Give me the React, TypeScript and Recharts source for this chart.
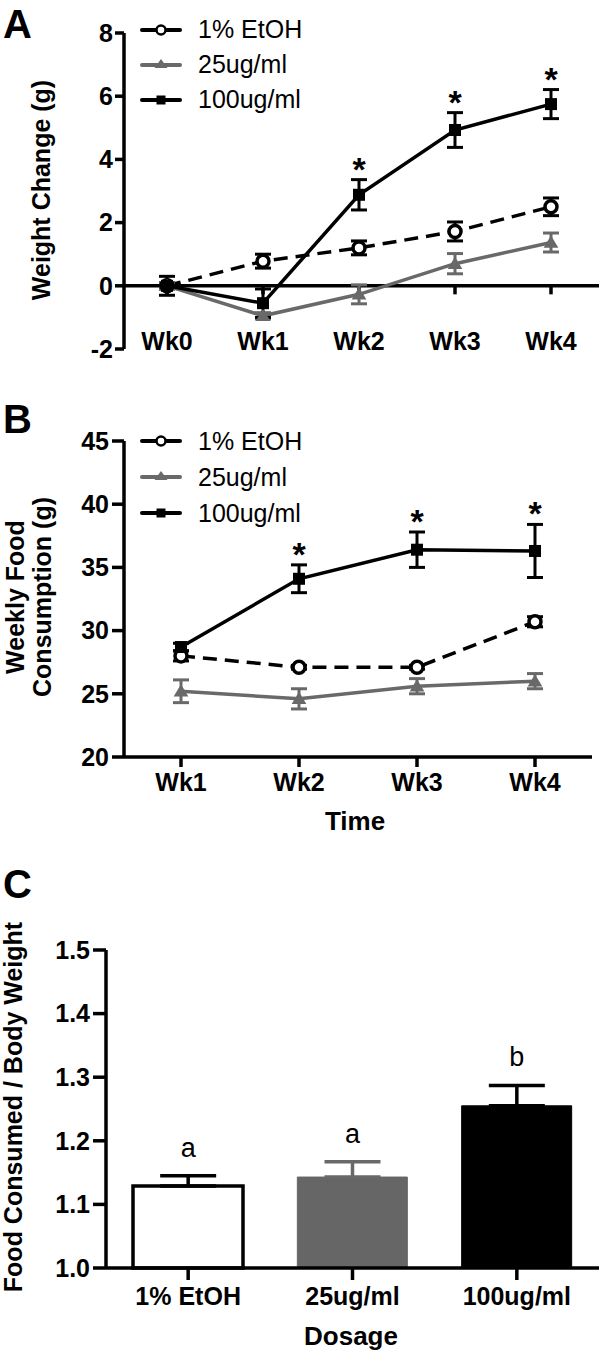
import React from 'react';
import {
  LineChart,
  Line,
  XAxis,
  YAxis,
  ReferenceLine,
  ErrorBar,
  LabelList,
  Legend,
  ComposedChart,
  Bar,
  Cell,
} from 'recharts';

const FONT = '"Liberation Sans", Arial, Helvetica, sans-serif';
const GRAY = '#696969';
const SW = 3.5;

// ---------- Panel A: weight change ----------
const weeksA = ['Wk0', 'Wk1', 'Wk2', 'Wk3', 'Wk4'];
const seriesNames = ['1% EtOH', '25ug/ml', '100ug/ml'];
const weightEtoh = [0, 0.78, 1.2, 1.72, 2.5];
const weightEtohErr = [0.1, 0.22, 0.22, 0.3, 0.28];
const weight25 = [0, -0.95, -0.27, 0.7, 1.37];
const weight25Err = [0.1, 0.1, 0.3, 0.32, 0.3];
const weight100 = [0, -0.55, 2.88, 4.93, 5.75];
const weight100Err = [0.3, 0.45, 0.48, 0.55, 0.46];
const weightSig = [false, false, true, true, true];
const weightTicks = [-2, 0, 2, 4, 6, 8];

// ---------- Panel B: weekly food consumption ----------
const weeksB = ['Wk1', 'Wk2', 'Wk3', 'Wk4'];
const foodEtoh = [28.0, 27.1, 27.1, 30.7];
const foodEtohErr = [0.4, 0.15, 0.15, 0.4];
const food25 = [25.2, 24.6, 25.6, 26.0];
const food25Err = [0.9, 0.8, 0.6, 0.6];
const food100 = [28.7, 34.1, 36.4, 36.3];
const food100Err = [0.3, 1.1, 1.4, 2.1];
const foodSig = [false, true, true, true];
const foodTicks = [20, 25, 30, 35, 40, 45];

// ---------- Panel C: food consumed / body weight ----------
const dosages = ['1% EtOH', '25ug/ml', '100ug/ml'];
const ratio = [1.129, 1.143, 1.255];
const ratioErr = [0.016, 0.024, 0.032];
const ratioLetters = ['a', 'a', 'b'];
const ratioTicks = [1.0, 1.1, 1.2, 1.3, 1.4, 1.5];
const barFills = ['#ffffff', '#666666', '#000000'];
const errGrayIdx = [1];

const dataA = weeksA.map((w, i) => ({
  week: w,
  etoh: weightEtoh[i],
  etohErr: weightEtohErr[i],
  d25: weight25[i],
  d25Err: weight25Err[i],
  d100: weight100[i],
  d100Err: weight100Err[i],
  sigTop: weightSig[i] ? weight100[i] + weight100Err[i] : null,
}));

const dataB = weeksB.map((w, i) => ({
  week: w,
  etoh: foodEtoh[i],
  etohErr: foodEtohErr[i],
  d25: food25[i],
  d25Err: food25Err[i],
  d100: food100[i],
  d100Err: food100Err[i],
  sigTop: foodSig[i] ? food100[i] + food100Err[i] : null,
}));

const dataC = dosages.map((d, i) => {
  const gray = errGrayIdx.includes(i);
  return {
    dosage: d,
    ratio: ratio[i],
    blackVal: gray ? null : ratio[i],
    blackErr: gray ? null : [0, ratioErr[i]],
    grayVal: gray ? ratio[i] : null,
    grayErr: gray ? [0, ratioErr[i]] : null,
    letterTop: ratio[i] + ratioErr[i],
    letter: ratioLetters[i],
  };
});

// ---------- helpers ----------
const axisStroke = { stroke: '#000', strokeWidth: SW };
const yTickStyle = { fill: '#000', fontSize: 25, fontWeight: 'bold', fontFamily: FONT };

const xTick = (dy: number) => (p: any) => (
  <text
    x={p.x}
    y={p.y + dy}
    textAnchor="middle"
    fontSize={25}
    fontWeight="bold"
    fontFamily={FONT}
    fill="#000"
  >
    {p.payload.value}
  </text>
);

function RotLabel({ px, py, lines, gap }: any) {
  return (
    <g>
      {lines.map((t: string, i: number) => {
        const x = px + i * gap;
        return (
          <text
            key={i}
            x={x}
            y={py}
            transform={`rotate(-90 ${x} ${py})`}
            textAnchor="middle"
            fontSize={25}
            fontWeight="bold"
            fontFamily={FONT}
            fill="#000"
          >
            {t}
          </text>
        );
      })}
    </g>
  );
}

function PlainLabel({ px, py, text }: any) {
  return (
    <text x={px} y={py} textAnchor="middle" fontSize={26} fontWeight="bold" fontFamily={FONT} fill="#000">
      {text}
    </text>
  );
}

const circleDot = (r: number) => (p: any) =>
  p.cx == null || p.cy == null ? (
    <g key={p.index} />
  ) : (
    <circle key={p.index} cx={p.cx} cy={p.cy} r={r} fill="#fff" stroke="#000" strokeWidth={SW} />
  );

const triDot = (s: number) => (p: any) =>
  p.cx == null || p.cy == null ? (
    <g key={p.index} />
  ) : (
    <polygon
      key={p.index}
      points={`${p.cx},${p.cy - s} ${p.cx - s * 1.05},${p.cy + s * 0.75} ${p.cx + s * 1.05},${p.cy + s * 0.75}`}
      fill={GRAY}
    />
  );

const sqDot = (s: number) => (p: any) =>
  p.cx == null || p.cy == null ? (
    <g key={p.index} />
  ) : (
    <rect key={p.index} x={p.cx - s / 2} y={p.cy - s / 2} width={s} height={s} fill="#000" />
  );

const starLabel = (p: any) => {
  if (p.value == null) return null;
  const vb = p.viewBox || {};
  const x = p.x ?? vb.x;
  const y = p.y ?? vb.y;
  if (x == null || y == null) return null;
  return (
    <text x={x} y={y + 1} textAnchor="middle" fontSize={34} fontWeight="bold" fontFamily={FONT} fill="#000">
      *
    </text>
  );
};

const letterLabel = (p: any) => {
  if (p.value == null) return null;
  const vb = p.viewBox || {};
  const x = p.x ?? vb.x;
  const y = p.y ?? vb.y;
  if (x == null || y == null) return null;
  return (
    <text x={x} y={y - 19} textAnchor="middle" fontSize={27} fontFamily={FONT} fill="#000">
      {ratioLetters[p.index]}
    </text>
  );
};

function LegendIcon({ kind }: { kind: number }) {
  const color = kind === 1 ? GRAY : '#000';
  return (
    <svg width={42} height={20} style={{ display: 'block' }}>
      <line x1={2} y1={10} x2={40} y2={10} stroke={color} strokeWidth={4} strokeLinecap="round" />
      {kind === 0 && <circle cx={21} cy={10} r={4.5} fill="#fff" stroke="#000" strokeWidth={2.5} />}
      {kind === 1 && <polygon points="21,4 14.5,13 27.5,13" fill={GRAY} />}
      {kind === 2 && <rect x={16.5} y={5.5} width={9} height={9} fill="#000" />}
    </svg>
  );
}

const legendContent = (rowH: number) => () => (
  <div style={{ fontFamily: FONT, fontSize: 25, color: '#000' }}>
    {seriesNames.map((n, i) => (
      <div key={n} style={{ display: 'flex', alignItems: 'center', height: rowH, lineHeight: `${rowH}px` }}>
        <LegendIcon kind={i} />
        <span style={{ marginLeft: 16, whiteSpace: 'nowrap' }}>{n}</span>
      </div>
    ))}
  </div>
);

function seriesLines(capW: number) {
  return [
    <Line
      key="etoh"
      dataKey="etoh"
      stroke="#000"
      strokeWidth={SW}
      strokeDasharray="14 8"
      dot={circleDot(6)}
      activeDot={false}
      isAnimationActive={false}
    >
      <ErrorBar dataKey="etohErr" width={capW} stroke="#000" strokeWidth={3} direction="y" />
    </Line>,
    <Line
      key="d25"
      dataKey="d25"
      stroke={GRAY}
      strokeWidth={SW}
      dot={triDot(7)}
      activeDot={false}
      isAnimationActive={false}
    >
      <ErrorBar dataKey="d25Err" width={capW} stroke={GRAY} strokeWidth={3} direction="y" />
    </Line>,
    <Line
      key="d100"
      dataKey="d100"
      stroke="#000"
      strokeWidth={SW}
      dot={sqDot(12)}
      activeDot={false}
      isAnimationActive={false}
    >
      <ErrorBar dataKey="d100Err" width={capW} stroke="#000" strokeWidth={3} direction="y" />
    </Line>,
    <Line
      key="sig"
      dataKey="sigTop"
      stroke="none"
      dot={false}
      activeDot={false}
      legendType="none"
      isAnimationActive={false}
    >
      <LabelList dataKey="sigTop" content={starLabel} />
    </Line>,
  ];
}

function ChartA() {
  return (
    <LineChart width={600} height={365} data={dataA} margin={{ top: 33, right: 1, bottom: 0, left: 0 }}>
      <XAxis
        dataKey="week"
        axisLine={false}
        tickLine={false}
        tickSize={8}
        tickMargin={0}
        height={16}
        interval={0}
        padding={{ left: 43, right: 48 }}
        tick={xTick(-7)}
      />
      <YAxis
        type="number"
        domain={[-2, 8]}
        ticks={weightTicks}
        interval={0}
        width={124}
        axisLine={axisStroke}
        tickLine={axisStroke}
        tickSize={9}
        tickMargin={2}
        tick={yTickStyle}
        label={<RotLabel px={50} py={190} lines={['Weight Change (g)']} gap={0} />}
      />
      <ReferenceLine y={0} stroke="#000" strokeWidth={SW} />
      {weeksA.map((w) => (
        <ReferenceLine
          key={w}
          segment={[
            { x: w, y: 0 },
            { x: w, y: -0.27 },
          ]}
          stroke="#000"
          strokeWidth={SW}
        />
      ))}
      {seriesLines(8)}
      <Legend
        layout="vertical"
        align="center"
        verticalAlign="middle"
        wrapperStyle={{ left: 140, top: 12, width: 'auto', right: 'auto', bottom: 'auto' }}
        content={legendContent(35)}
      />
    </LineChart>
  );
}

function ChartB() {
  return (
    <LineChart width={600} height={475} data={dataB} margin={{ top: 76, right: 8, bottom: 0, left: 0 }}>
      <XAxis
        dataKey="week"
        height={83}
        interval={0}
        padding={{ left: 57, right: 57 }}
        axisLine={axisStroke}
        tickLine={axisStroke}
        tickSize={10}
        tickMargin={0}
        tick={xTick(24)}
        label={<PlainLabel px={355} py={465} text="Time" />}
      />
      <YAxis
        type="number"
        domain={[20, 45]}
        ticks={foodTicks}
        interval={0}
        width={124}
        axisLine={axisStroke}
        tickLine={axisStroke}
        tickSize={12}
        tickMargin={3}
        tick={yTickStyle}
        label={<RotLabel px={24} py={232} lines={['Weekly Food', 'Consumption (g)']} gap={27} />}
      />
      {seriesLines(8)}
      <Legend
        layout="vertical"
        align="center"
        verticalAlign="middle"
        wrapperStyle={{ left: 140, top: 58, width: 'auto', right: 'auto', bottom: 'auto' }}
        content={legendContent(36)}
      />
    </LineChart>
  );
}

function ChartC() {
  return (
    <ComposedChart width={600} height={530} data={dataC} margin={{ top: 110, right: 1, bottom: 0, left: 0 }}>
      <XAxis
        dataKey="dosage"
        height={102}
        interval={0}
        axisLine={axisStroke}
        tickLine={axisStroke}
        tickSize={12}
        tickMargin={0}
        tick={xTick(25)}
        label={<PlainLabel px={351} py={505} text="Dosage" />}
      />
      <YAxis
        type="number"
        domain={[1, 1.5]}
        ticks={ratioTicks}
        interval={0}
        width={106}
        axisLine={axisStroke}
        tickLine={axisStroke}
        tickSize={13}
        tickMargin={3}
        tick={yTickStyle}
        tickFormatter={(v: number) => v.toFixed(1)}
        label={<RotLabel px={22} py={267} lines={['Food Consumed / Body Weight']} gap={0} />}
      />
      <Bar dataKey="ratio" barSize={110} isAnimationActive={false}>
        {dataC.map((d, i) => (
          <Cell
            key={d.dosage}
            fill={barFills[i]}
            stroke={i === 0 ? '#000' : barFills[i]}
            strokeWidth={i === 0 ? SW : 1}
          />
        ))}
      </Bar>
      <Line dataKey="blackVal" stroke="none" dot={false} activeDot={false} legendType="none" isAnimationActive={false}>
        <ErrorBar dataKey="blackErr" width={28} stroke="#000" strokeWidth={SW} direction="y" />
      </Line>
      <Line dataKey="grayVal" stroke="none" dot={false} activeDot={false} legendType="none" isAnimationActive={false}>
        <ErrorBar dataKey="grayErr" width={28} stroke={GRAY} strokeWidth={SW} direction="y" />
      </Line>
      <Line dataKey="letterTop" stroke="none" dot={false} activeDot={false} legendType="none" isAnimationActive={false}>
        <LabelList dataKey="letterTop" content={letterLabel} />
      </Line>
    </ComposedChart>
  );
}

export default function App() {
  return (
    <div style={{ position: 'absolute', left: 0, top: 0, width: 600, height: 1370, background: '#fff', overflow: 'hidden' }}>
      <div style={{ position: 'absolute', left: 0, top: 0 }}>
        <ChartA />
      </div>
      <div style={{ position: 'absolute', left: 0, top: 365 }}>
        <ChartB />
      </div>
      <div style={{ position: 'absolute', left: 0, top: 840 }}>
        <ChartC />
      </div>
      <svg width={600} height={1370} style={{ position: 'absolute', left: 0, top: 0, pointerEvents: 'none' }}>
        {[
          ['A', 38],
          ['B', 433],
          ['C', 898],
        ].map(([t, y]) => (
          <text key={t as string} x={3} y={y as number} fontSize={40} fontWeight="bold" fontFamily={FONT} fill="#000">
            {t}
          </text>
        ))}
      </svg>
    </div>
  );
}
